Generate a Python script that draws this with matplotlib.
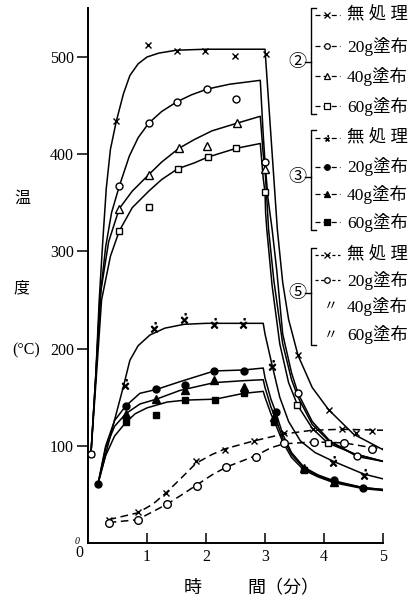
import matplotlib
matplotlib.use('Agg')
from matplotlib import pyplot as plt

plt.rcParams['font.family'] = ['Noto Sans CJK JP', 'DejaVu Sans']

# time [min] / temperature [°C]

# --- group 2: solid curves, open markers ---
c2_none_t = [0.05, 0.13, 0.19, 0.25, 0.31, 0.38, 0.48, 0.6, 0.71, 0.85, 1.0, 1.2, 1.5, 2.0, 2.5, 3.0,
             3.21, 3.3, 3.4, 3.56, 3.8, 4.08, 4.5, 5.0]
c2_none_T = [92, 170, 250, 310, 365, 405, 434, 462, 481, 493, 500, 504, 507, 508, 508, 508,
             322, 268, 230, 193, 160, 137, 112, 96]
c2_20_t = [0.05, 0.13, 0.2, 0.3, 0.4, 0.53, 0.7, 0.85, 1.03, 1.25, 1.51, 1.75, 2.02, 2.4, 2.92,
           2.97, 3.0, 3.05, 3.12, 3.2, 3.3, 3.45, 3.56, 3.8, 4.1, 4.56, 5.0]
c2_20_T = [92, 170, 250, 305, 340, 367, 398, 417, 432, 444, 454, 461, 467, 472, 476,
           420, 392, 355, 323, 280, 215, 175, 154, 125, 105, 89, 84]
c2_40_t = [0.05, 0.14, 0.22, 0.35, 0.53, 0.75, 1.03, 1.25, 1.54, 1.8, 2.1, 2.53, 2.92,
           2.97, 3.0, 3.03, 3.06, 3.15, 3.3, 3.45, 3.56, 3.8, 4.1, 4.5, 5.0]
c2_40_T = [92, 180, 260, 310, 344, 362, 379, 392, 406, 415, 424, 432, 439,
           400, 385, 355, 323, 270, 205, 168, 150, 122, 104, 92, 84]
c2_60_t = [0.05, 0.14, 0.23, 0.38, 0.53, 0.75, 1.03, 1.25, 1.52, 1.8, 2.03, 2.51, 2.92,
           2.97, 3.0, 3.01, 3.03, 3.12, 3.25, 3.4, 3.55, 3.8, 4.06, 4.5, 5.0]
c2_60_T = [92, 170, 250, 295, 321, 345, 362, 374, 385, 391, 397, 406, 411,
           375, 361, 340, 323, 265, 205, 165, 142, 118, 103, 92, 84]

m2_none_t = [0.05, 0.48, 1.01, 1.5, 1.99, 2.49, 3.01, 3.56, 4.08]
m2_none_T = [92, 434, 512, 506, 506, 501, 503, 193, 137]
m2_20_t = [0.05, 0.53, 1.03, 1.51, 2.02, 2.5, 3.0, 3.56, 4.56]
m2_20_T = [92, 367, 432, 454, 467, 457, 392, 154, 89]
m2_40_t = [0.53, 1.03, 1.54, 2.02, 2.53, 3.0]
m2_40_T = [344, 379, 406, 408, 432, 385]
m2_60_t = [0.53, 1.03, 1.52, 2.03, 2.51, 3.0, 3.55, 4.06]
m2_60_T = [321, 346, 385, 397, 406, 361, 142, 103]

# --- group 3: solid curves, filled markers ---
c3_none_t = [0.17, 0.4, 0.6, 0.71, 0.85, 1.05, 1.3, 1.63, 2.0, 2.5, 2.97, 3.0, 3.12, 3.25, 3.4,
             3.6, 3.85, 4.16, 4.67, 5.0]
c3_none_T = [61, 115, 161, 188, 203, 214, 221, 225, 226, 226, 226, 215, 183, 150, 125,
             105, 93, 84, 71, 66]
c3_20_t = [0.17, 0.3, 0.45, 0.64, 0.88, 1.16, 1.56, 2.14, 2.64, 2.97, 3.0, 3.1, 3.18, 3.3, 3.45,
           3.66, 3.9, 4.17, 4.66, 5.0]
c3_20_T = [61, 100, 126, 141, 154, 158, 166, 177, 178, 180, 170, 148, 135, 112, 93,
           78, 70, 64, 57, 55]
c3_40_t = [0.17, 0.3, 0.45, 0.64, 0.88, 1.16, 1.56, 2.14, 2.64, 2.97, 3.0, 3.1, 3.18, 3.3, 3.45,
           3.66, 3.9, 4.17, 4.66, 5.0]
c3_40_T = [61, 98, 120, 133, 143, 148, 157, 165, 167, 168, 160, 140, 128, 108, 91,
           77, 69, 63, 57, 55]
c3_60_t = [0.17, 0.3, 0.45, 0.64, 0.8, 1.0, 1.34, 1.65, 2.16, 2.64, 2.97, 3.0, 3.1, 3.18, 3.3,
           3.45, 3.66, 3.9, 4.17, 4.66, 5.0]
c3_60_T = [61, 90, 110, 124, 133, 139, 145, 147, 148, 154, 156, 150, 133, 122, 104,
           88, 75, 68, 62, 56, 54]

m3_none_t = [0.63, 1.12, 1.63, 2.13, 2.62, 3.12, 4.16, 4.67]
m3_none_T = [164, 222, 231, 226, 226, 183, 84, 71]
m3_20_t = [0.17, 0.64, 1.16, 1.65, 2.14, 2.64, 3.18, 4.17, 4.66]
m3_20_T = [61, 141, 158, 163, 177, 177, 135, 65, 57]
m3_40_t = [0.64, 1.16, 1.65, 2.14, 2.64, 3.15, 3.66, 4.17]
m3_40_T = [133, 148, 157, 168, 161, 130, 77, 63]
m3_60_t = [0.64, 1.16, 1.65, 2.16, 2.64, 3.15, 3.66]
m3_60_T = [125, 132, 147, 147, 154, 125, 75]

# --- group 5: dashed curves ---
c5_none_t = [0.35, 0.84, 1.1, 1.33, 1.6, 1.83, 2.1, 2.33, 2.81, 3.3, 3.8, 4.3, 5.0]
c5_none_T = [24, 31, 40, 52, 68, 82, 91, 97, 105, 112, 116, 117, 116]
c5_20_t = [0.35, 0.84, 1.34, 1.6, 1.85, 2.1, 2.34, 2.85, 3.1, 3.32, 3.83, 4.34, 4.82, 5.0]
c5_20_T = [21, 24, 40, 50, 60, 70, 78, 90, 98, 102, 104, 103, 98, 97]

m5_none_t = [0.35, 0.84, 1.33, 1.83, 2.33, 2.81, 3.32, 3.81, 4.31, 4.55, 4.82]
m5_none_T = [24, 32, 51, 84, 96, 105, 113, 117, 117, 113, 115]
m5_20_t = [0.35, 0.84, 1.34, 1.85, 2.34, 2.85, 3.32, 3.83, 4.34, 4.82]
m5_20_T = [21, 24, 40, 59, 78, 88, 103, 104, 103, 97]

y_ticks = [100, 200, 300, 400, 500]
x_ticks = [1, 2, 3, 4, 5]

legend_texts = ['無 処 理', '20g塗布', '40g塗布', '60g塗布']

SERIF = ['Liberation Serif', 'Noto Sans CJK JP']
DOTX = r'$\dot{\times}$'


def curve(ax, t, T, dashed=False):
  ls = (0, (5, 3)) if dashed else '-'
  ax.plot(t, T, color='black', lw=1.1, ls=ls, zorder=2)


def marks(ax, t, T, marker, filled=False, size=5):
  face = 'black' if filled else 'white'
  ax.plot(t, T, ls='none', marker=marker, ms=size, mfc=face, mec='black',
          mew=1.0, color='black', zorder=3)


def legend_group(lg, num, num_y, rows, top, bottom, samples, dashed):
  lg.plot([316, 311, 311, 316], [top, top, bottom, bottom], color='black', lw=1.0)
  lg.plot([305, 311], [num_y, num_y], color='black', lw=1.0)
  lg.text(297, num_y, num, fontsize=13, ha='center', va='center')
  for y, txt, smp in zip(rows, legend_texts, samples):
    if smp is None:
      lg.text(331, y, '〃', fontsize=10, ha='center', va='center')
    else:
      marker, filled = smp
      ls = (0, (2.5, 2)) if dashed else (0, (4, 2.5))
      lg.plot([315, 340], [y, y], color='black', lw=0.9, ls=ls)
      face = 'black' if filled else 'white'
      lg.plot([327], [y], marker=marker, ms=4, mfc=face, mec='black', mew=0.9,
              color='black', ls='none')
    lg.text(347, y, txt, fontsize=12.5, ha='left', va='center', family=SERIF)


def plot():
  fig = plt.figure(figsize=(4.12, 6.02), dpi=100)
  ax = fig.add_axes([88 / 412, 59 / 602, 295 / 412, 534.6 / 602])

  curve(ax, c2_none_t, c2_none_T)
  curve(ax, c2_20_t, c2_20_T)
  curve(ax, c2_40_t, c2_40_T)
  curve(ax, c2_60_t, c2_60_T)
  curve(ax, c3_none_t, c3_none_T)
  curve(ax, c3_20_t, c3_20_T)
  curve(ax, c3_40_t, c3_40_T)
  curve(ax, c3_60_t, c3_60_T)
  curve(ax, c5_none_t, c5_none_T, dashed=True)
  curve(ax, c5_20_t, c5_20_T, dashed=True)

  marks(ax, m2_none_t, m2_none_T, 'x', size=4.5)
  marks(ax, m2_20_t, m2_20_T, 'o', size=5)
  marks(ax, m2_40_t, m2_40_T, '^', size=5.5)
  marks(ax, m2_60_t, m2_60_T, 's', size=5)
  marks(ax, m3_none_t, m3_none_T, DOTX, size=7)
  marks(ax, m3_20_t, m3_20_T, 'o', filled=True, size=5)
  marks(ax, m3_40_t, m3_40_T, '^', filled=True, size=5.5)
  marks(ax, m3_60_t, m3_60_T, 's', filled=True, size=5)
  marks(ax, m5_none_t, m5_none_T, 'x', size=4.5)
  marks(ax, m5_20_t, m5_20_T, 'o', size=5.5)

  ax.set_xlim(0, 5)
  ax.set_ylim(0, 550)
  for s in ['top', 'right']:
    ax.spines[s].set_visible(False)
  for s in ['left', 'bottom']:
    ax.spines[s].set_linewidth(1.4)

  ax.set_xticks(x_ticks)
  ax.set_xticklabels([str(v) for v in x_ticks])
  ax.set_yticks(y_ticks)
  ax.set_yticklabels([str(v) for v in y_ticks])
  ax.tick_params(axis='x', direction='in', length=7, width=1.1, pad=4, labelsize=11.5)
  ax.tick_params(axis='y', direction='out', length=8, width=1.1, pad=2, labelsize=11.5)
  for lbl in ax.get_xticklabels() + ax.get_yticklabels():
    lbl.set_family('Liberation Serif')

  # overlay in pixel coordinates for labels and the hand-made legend
  lg = fig.add_axes([0, 0, 1, 1], zorder=5)
  lg.set_xlim(0, 412)
  lg.set_ylim(602, 0)
  lg.axis('off')
  lg.patch.set_alpha(0)

  lg.text(79, 553, '0', fontsize=11.5, ha='center', va='center', family='Liberation Serif')
  lg.text(77, 541, '0', fontsize=7, ha='center', va='center', family='Liberation Serif',
          style='italic')

  lg.text(22, 198, '温', fontsize=11.5, ha='center', va='center')
  lg.text(22, 288, '度', fontsize=11.5, ha='center', va='center')
  lg.text(26, 350, '(°C)', fontsize=11.5, ha='center', va='center', family=SERIF)
  lg.text(193, 588, '時', fontsize=13, ha='center', va='center')
  lg.text(247, 588, '間（分）', fontsize=13, ha='left', va='center')

  legend_group(lg, '②', 62, [15, 46, 76, 106], 8, 114,
               [('x', False), ('o', False), ('^', False), ('s', False)], False)
  legend_group(lg, '③', 177, [138, 167, 194, 222], 130, 230,
               [(DOTX, False), ('o', True), ('^', True), ('s', True)], False)
  legend_group(lg, '⑤', 293, [255, 280, 306, 335], 248, 345,
               [('x', False), ('o', False), None, None], True)

  fig.savefig('out.png', dpi=100)


if __name__ == '__main__':
  plot()
